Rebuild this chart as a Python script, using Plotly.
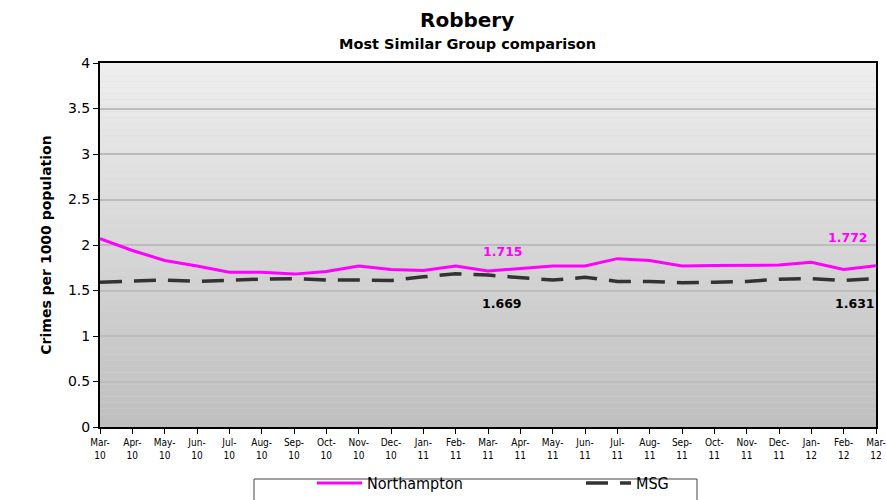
"""

Robbery rate: Northampton versus Most Similar Group.

"""

import plotly.graph_objects as go


MONTHS = [
    "Mar-10", "Apr-10", "May-10", "Jun-10", "Jul-10", "Aug-10", "Sep-10",
    "Oct-10", "Nov-10", "Dec-10", "Jan-11", "Feb-11", "Mar-11", "Apr-11",
    "May-11", "Jun-11", "Jul-11", "Aug-11", "Sep-11", "Oct-11", "Nov-11",
    "Dec-11", "Jan-12", "Feb-12", "Mar-12",
]
NORTHAMPTON = [
    2.07, 1.94, 1.83, 1.77, 1.70, 1.70, 1.68, 1.71, 1.77, 1.73, 1.72, 1.77,
    1.715, 1.74, 1.77, 1.77, 1.85, 1.83, 1.77, 1.775, 1.775, 1.78, 1.81,
    1.73, 1.772,
]
MSG = [
    1.59, 1.60, 1.615, 1.60, 1.615, 1.625, 1.63, 1.615, 1.615, 1.61, 1.65,
    1.685, 1.669, 1.645, 1.615, 1.645, 1.60, 1.60, 1.585, 1.59, 1.60, 1.625,
    1.63, 1.61, 1.631,
]
Y_TICKS = [0, 0.5, 1, 1.5, 2, 2.5, 3, 3.5, 4]

PINK = "#ff00ff"
DARK = "#333333"

# paper area is 786 px wide (right margin 0), plot takes the first 776 px
PAPER_W = 786
PLOT_W = 776
PLOT_H = 364


def main():
    """main program"""
    tick_text = [m.replace("-", "-<br>") for m in MONTHS]

    fig = go.Figure()
    fig.add_trace(go.Scatter(
        x=MONTHS, y=NORTHAMPTON, name="Northampton", mode="lines",
        line=dict(color=PINK, width=3)))
    fig.add_trace(go.Scatter(
        x=MONTHS, y=MSG, name="MSG", mode="lines",
        line=dict(color=DARK, width=3.5, dash="22px,12px")))

    # gradient background, light at top to darker at bottom
    n_bands = 60
    for i in range(n_bands):
        frac = i / (n_bands - 1)
        level = int(round(0xbf + (0xee - 0xbf) * frac))
        fig.add_shape(
            type="rect", xref="x domain", yref="y domain",
            x0=0, x1=1, y0=i / n_bands, y1=(i + 1) / n_bands,
            fillcolor=f"rgb({level},{level},{level})",
            line=dict(width=0), layer="below")

    # legend frame (plotly legend itself drawn without border)
    fig.add_shape(type="rect", xref="paper", yref="paper",
                  x0=154 / PAPER_W, x1=597 / PAPER_W,
                  y0=-80 / PLOT_H, y1=-52 / PLOT_H,
                  line=dict(color="#444444", width=1), fillcolor="white",
                  layer="below")

    # data labels for latest March values
    label_font = dict(family="DejaVu Sans", size=12.5)
    fig.add_annotation(x=MONTHS[12], y=NORTHAMPTON[12], text="<b>1.715</b>",
                       showarrow=False, xshift=15, yshift=19,
                       font=dict(label_font, color=PINK))
    fig.add_annotation(x=MONTHS[12], y=MSG[12], text="<b>1.669</b>",
                       showarrow=False, xshift=14, yshift=-28,
                       font=dict(label_font, color="#000000"))
    fig.add_annotation(x=MONTHS[24], y=NORTHAMPTON[24], text="<b>1.772</b>",
                       showarrow=False, xshift=-28, yshift=28,
                       font=dict(label_font, color=PINK))
    fig.add_annotation(x=MONTHS[24], y=MSG[24], text="<b>1.631</b>",
                       showarrow=False, xshift=-21, yshift=-25,
                       font=dict(label_font, color="#000000"))

    # titles
    title_x = (467 - 100) / PAPER_W
    fig.add_annotation(x=title_x, y=1, xref="paper", yref="paper",
                       yanchor="middle", yshift=43,
                       text="<b>Robbery</b>", showarrow=False,
                       font=dict(family="DejaVu Sans", size=20, color="#000000"))
    fig.add_annotation(x=title_x, y=1, xref="paper", yref="paper",
                       yanchor="middle", yshift=19,
                       text="<b>Most Similar Group comparison</b>", showarrow=False,
                       font=dict(family="DejaVu Sans", size=14.5, color="#000000"))

    fig.update_layout(
        width=886, height=500,
        margin=dict(l=100, r=0, t=63, b=73, autoexpand=False),
        paper_bgcolor="white", plot_bgcolor="#d6d6d6",
        showlegend=True,
        legend=dict(
            orientation="h", x=212 / PAPER_W, y=-73 / PLOT_H, xanchor="left",
            yanchor="bottom", borderwidth=0, bgcolor="rgba(0,0,0,0)",
            entrywidth=209, itemwidth=45, tracegroupgap=0,
            font=dict(family="DejaVu Sans Condensed", size=16, color="#000000")),
        xaxis=dict(
            type="category", range=[0, len(MONTHS) - 1],
            domain=[0, PLOT_W / PAPER_W], automargin=False,
            tickmode="array", tickvals=MONTHS, ticktext=tick_text,
            tickangle=0, ticks="outside", ticklen=5, tickcolor="#000000",
            showgrid=False, showline=True, linecolor="#000000", linewidth=2,
            mirror=True, zeroline=False,
            tickfont=dict(family="DejaVu Sans Condensed", size=10,
                          color="#000000")),
        yaxis=dict(
            range=[0, 4], tickvals=Y_TICKS, ticks="outside", ticklen=5,
            automargin=False,
            tickcolor="#000000", showgrid=True, gridcolor="#bcbcbc",
            gridwidth=2, showline=True, linecolor="#000000", linewidth=2,
            mirror=True, zeroline=False,
            tickfont=dict(family="DejaVu Sans", size=14, color="#000000"),
            title=dict(text="<b>Crimes per 1000 population</b>", standoff=13,
                       font=dict(family="DejaVu Sans", size=14,
                                 color="#000000"))),
    )

    # drop the page's default body margin so the figure fills the window
    fig.write_html("out.html", config={"displayModeBar": False},
                   post_script="document.body.style.margin = '0';")


if __name__ == "__main__":
    main()
